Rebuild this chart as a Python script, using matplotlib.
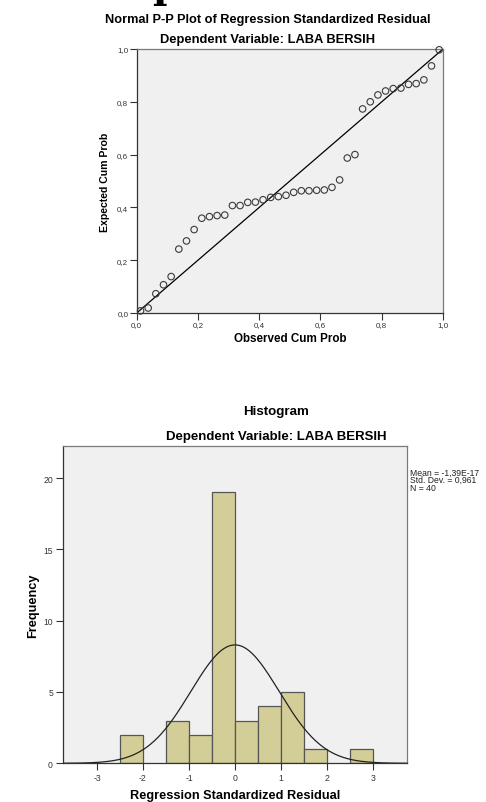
import numpy as np
import matplotlib
matplotlib.use("Agg")
import matplotlib.pyplot as plt

# ---------------- data ----------------
# P-P plot: observed cumulative probability (i-0.5)/n and expected cum prob
n_points = 40
observed_cum = [(i - 0.5) / n_points for i in range(1, n_points + 1)]
expected_cum = [0.008, 0.019, 0.073, 0.107, 0.138, 0.242, 0.273, 0.316, 0.359, 0.365,
                0.369, 0.371, 0.407, 0.407, 0.419, 0.420, 0.429, 0.438, 0.441, 0.446,
                0.457, 0.463, 0.463, 0.465, 0.466, 0.476, 0.504, 0.587, 0.600, 0.773,
                0.800, 0.826, 0.841, 0.850, 0.852, 0.866, 0.869, 0.883, 0.936, 0.997]
pp_ticks = [0.0, 0.2, 0.4, 0.6, 0.8, 1.0]
pp_ticklabels = ["0,0", "0,2", "0,4", "0,6", "0,8", "1,0"]

# Histogram of standardized residuals (bin width 0.5)
bin_left = [-2.5, -1.5, -1.0, -0.5, 0.0, 0.5, 1.0, 1.5, 2.5]
bin_count = [2, 3, 2, 19, 3, 4, 5, 1, 1]
bin_width = 0.5
hist_mean = -1.39e-17
hist_sd = 0.961
hist_n = 40
hist_xticks = [-3, -2, -1, 0, 1, 2, 3]
hist_yticks = [0, 5, 10, 15, 20]

# ---------------- style ----------------
plt.rcParams['font.family'] = ['Liberation Sans', 'DejaVu Sans']
BG = "#F0F0F0"
BAR = "#D3CE97"
EDGE = "#555555"
SPINE = "#7a7a7a"
TICKC = "#333333"

W, H = 486, 803
fig = plt.figure(figsize=(W / 100, H / 100), dpi=100)

def ax_rect(x0, y0, x1, y1):
    return [x0 / W, 1 - y1 / H, (x1 - x0) / W, (y1 - y0) / H]

# fragment of document heading letter at very top (cut off in the reference too)
fig.text(166 / W, 1 + 1.5 / H, "p", fontsize=28, family="DejaVu Serif",
         fontweight="bold", ha="center", va="baseline", color="black")

# ---------------- P-P plot ----------------
ax1 = fig.add_axes(ax_rect(136.7, 50, 443, 314))
ax1.set_facecolor(BG)
ax1.plot([0, 1], [0, 1], color="black", lw=0.9, zorder=2)
ax1.scatter(observed_cum, expected_cum, s=22, facecolors="none",
            edgecolors="#3a3a3a", linewidths=0.8, zorder=3, clip_on=False)
ax1.set_xlim(0, 1)
ax1.set_ylim(0, 1)
ax1.set_xticks(pp_ticks)
ax1.set_xticklabels(pp_ticklabels)
ax1.set_yticks(pp_ticks)
ax1.set_yticklabels(pp_ticklabels)
ax1.tick_params(direction="out", length=5, width=0.8, pad=1, labelsize=5.8,
                colors=TICKC, top=False, right=False)
for s in ax1.spines.values():
    s.set_color(SPINE)
    s.set_linewidth(0.9)
ax1.spines['left'].set_color("#333333")
ax1.spines['bottom'].set_color("#333333")
xl = ax1.set_xlabel("Observed Cum Prob", fontsize=8.4, fontweight="bold")
xl.set_va("center")
yl = ax1.set_ylabel("Expected Cum Prob", fontsize=7.6, fontweight="bold")
yl.set_va("center")
ax1.xaxis.set_label_coords(0.5, (314 - 339.5) / 264)
ax1.yaxis.set_label_coords((105 - 136.7) / 306.3, (314 - 182) / 264)

fig.text(268 / W, 1 - 20 / H, "Normal P-P Plot of Regression Standardized Residual",
         fontsize=9.2, fontweight="bold", ha="center", va="center")
fig.text(268 / W, 1 - 40 / H, "Dependent Variable: LABA BERSIH",
         fontsize=9.3, fontweight="bold", ha="center", va="center")

# ---------------- Histogram ----------------
ax2 = fig.add_axes(ax_rect(62.7, 447.3, 407.3, 764.3))
ax2.set_facecolor(BG)
ax2.bar(bin_left, bin_count, width=bin_width, align="edge", color=BAR,
        edgecolor=EDGE, linewidth=0.9, zorder=2)
xs = np.linspace(-3.75, 3.75, 400)
pdf = hist_n * bin_width * np.exp(-0.5 * ((xs - hist_mean) / hist_sd) ** 2) / (hist_sd * np.sqrt(2 * np.pi))
ax2.plot(xs, pdf, color="#222222", lw=0.9, zorder=3)
ax2.set_xlim(-3.745, 3.745)
ax2.set_ylim(0, 22.23)
ax2.set_xticks(hist_xticks)
ax2.set_xticklabels([str(v) for v in hist_xticks])
ax2.set_yticks(hist_yticks)
ax2.tick_params(direction="out", length=5, width=0.8, pad=2, labelsize=6.2,
                colors=TICKC, top=False, right=False)
for s in ax2.spines.values():
    s.set_color(SPINE)
    s.set_linewidth(0.9)
ax2.spines['left'].set_color("#333333")
ax2.spines['bottom'].set_color("#333333")
xl2 = ax2.set_xlabel("Regression Standardized Residual", fontsize=9.2, fontweight="bold")
xl2.set_va("center")
yl2 = ax2.set_ylabel("Frequency", fontsize=9.2, fontweight="bold")
yl2.set_va("center")
ax2.xaxis.set_label_coords(0.5, (764.3 - 796.5) / 317)
ax2.yaxis.set_label_coords((33 - 62.7) / 344.6, 0.5)

fig.text(276 / W, 1 - 411.5 / H, "Histogram", fontsize=9.6, fontweight="bold",
         ha="center", va="center")
fig.text(276 / W, 1 - 437 / H, "Dependent Variable: LABA BERSIH", fontsize=9.5,
         fontweight="bold", ha="center", va="center")

stats = ["Mean = -1,39E-17", "Std. Dev. = 0,961", "N = " + str(hist_n)]
for k, line in enumerate(stats):
    fig.text(409.5 / W, 1 - (473.3 + 7.4 * k) / H, line, fontsize=6.2,
             ha="left", va="center", color="#222222")

fig.savefig("out.png", dpi=100)
